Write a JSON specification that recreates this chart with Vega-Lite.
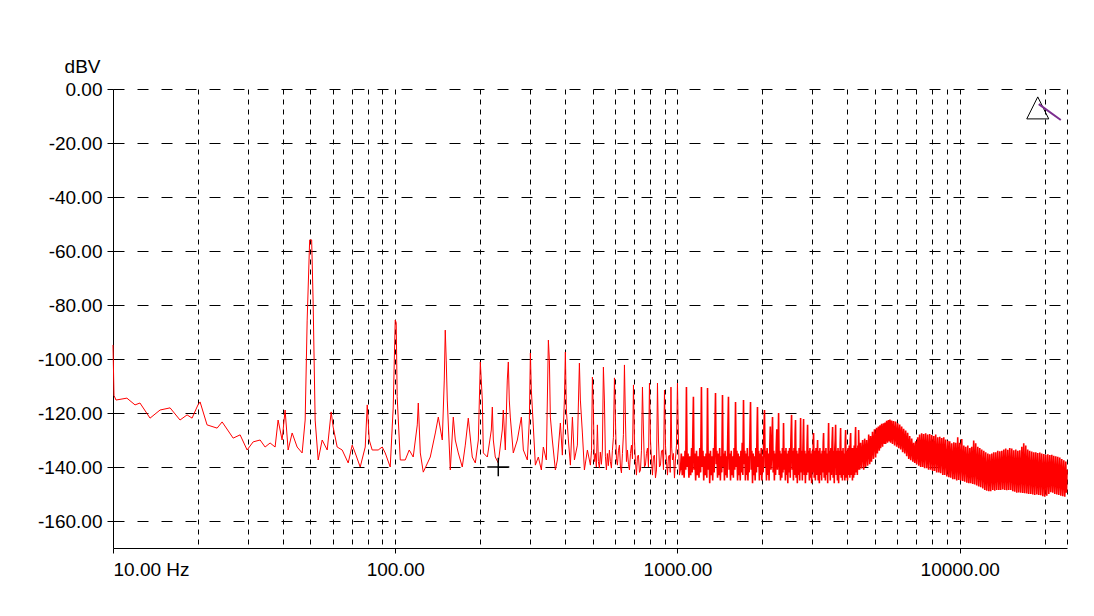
{
"$schema": "https://vega.github.io/schema/vega-lite/v6.json",
"autosize": "none",
"width": 954,
"height": 459,
"padding": {"left": 113, "top": 89, "right": 27, "bottom": 68},
"background": "white",
"config": {"view": {"stroke": null}},
"data": {"values": [
{"f":10,"d":-94.8},{"f":10.08,"d":-113.5},{"f":10.25,"d":-115.2},{"f":11.2,"d":-114.5},{"f":11.97,"d":-117},{"f":12.46,"d":-116.3},{"f":13.53,"d":-121.9},{"f":14.68,"d":-118.9},{"f":15.93,"d":-118.1},{"f":17.28,"d":-122.6},{"f":18.3,"d":-120.7},{"f":19.06,"d":-121.9},{"f":20,"d":-117},{"f":20.35,"d":-115.9},{"f":21.54,"d":-124.4},{"f":23.38,"d":-125.6},{"f":24.36,"d":-123.3},{"f":26.65,"d":-129.3},{"f":28.21,"d":-128.1},{"f":29.87,"d":-133.7},{"f":31.37,"d":-130.7},{"f":33.21,"d":-130},{"f":34.59,"d":-132.6},{"f":36.03,"d":-131.1},{"f":37.53,"d":-132.6},{"f":38.46,"d":-122.6},{"f":39.74,"d":-130},{"f":40.72,"d":-118.9},{"f":41.74,"d":-133.7},{"f":43.13,"d":-127.4},{"f":44.92,"d":-132.6},{"f":46.79,"d":-134.8},{"f":47.96,"d":-122.6},{"f":48.75,"d":-85.6},{"f":49.75,"d":-55.9},{"f":50.57,"d":-55.9},{"f":51.19,"d":-79.3},{"f":52.03,"d":-122.6},{"f":53.33,"d":-137.4},{"f":55.1,"d":-130},{"f":57.41,"d":-133.7},{"f":59.29,"d":-119.6},{"f":60.27,"d":-125.2},{"f":62.27,"d":-132.6},{"f":64.87,"d":-133.7},{"f":68.13,"d":-138.5},{"f":70.39,"d":-131.9},{"f":72.14,"d":-134.8},{"f":75.15,"d":-140},{"f":78.29,"d":-132.6},{"f":79.58,"d":-117},{"f":80.89,"d":-130},{"f":82.86,"d":-133.7},{"f":87.02,"d":-133.7},{"f":89.95,"d":-132.6},{"f":92.15,"d":-134.8},{"f":96,"d":-140},{"f":98.38,"d":-117.8},{"f":100,"d":-85.6},{"f":100.8,"d":-86.5},{"f":101.6,"d":-114},{"f":104.2,"d":-137.4},{"f":108.5,"d":-137.4},{"f":112.1,"d":-133.7},{"f":115.8,"d":-136.3},{"f":119.7,"d":-124.4},{"f":120.7,"d":-116.3},{"f":122.7,"d":-134.8},{"f":125.7,"d":-141.9},{"f":133.1,"d":-136.3},{"f":138.7,"d":-127.4},{"f":142.1,"d":-121.5},{"f":146.8,"d":-130},{"f":149.2,"d":-107.8},{"f":150.4,"d":-89.3},{"f":151.6,"d":-100.4},{"f":152.9,"d":-115.2},{"f":156.7,"d":-141.1},{"f":160.6,"d":-121.5},{"f":163.2,"d":-130},{"f":167.3,"d":-134.8},{"f":172.8,"d":-140},{"f":177.1,"d":-131.9},{"f":181.5,"d":-121.9},{"f":187.5,"d":-136.3},{"f":192.2,"d":-138.5},{"f":197,"d":-130},{"f":200.2,"d":-101.1},{"f":203.5,"d":-115.2},{"f":205.2,"d":-134.8},{"f":212,"d":-136.3},{"f":219,"d":-126.3},{"f":220.8,"d":-117.8},{"f":222.6,"d":-130},{"f":226.2,"d":-136.3},{"f":231.8,"d":-138.5},{"f":239.5,"d":-126.3},{"f":241.5,"d":-118.9},{"f":245.5,"d":-133.7},{"f":249.5,"d":-107.8},{"f":251.6,"d":-101.1},{"f":253.6,"d":-115.2},{"f":255.7,"d":-121.5},{"f":262,"d":-134.8},{"f":270.8,"d":-130},{"f":279.8,"d":-121.5},{"f":284.4,"d":-133.7},{"f":293.8,"d":-137.4},{"f":298.7,"d":-122.6},{"f":301.2,"d":-97.8},{"f":303.6,"d":-111.5},{"f":308.6,"d":-125.2},{"f":313.7,"d":-139.3},{"f":321.4,"d":-136.3},{"f":329.4,"d":-141.1},{"f":334.8,"d":-132.6},{"f":343.1,"d":-137.4},{"f":348.8,"d":-93},{"f":351.7,"d":-100.4},{"f":354.5,"d":-121.5},{"f":360.3,"d":-130},{"f":369.3,"d":-141.1},{"f":375.4,"d":-137.4},{"f":384.7,"d":-123.7},{"f":391,"d":-135.6},{"f":397.5,"d":-115.2},{"f":400.7,"d":-97.4},{"f":404,"d":-118.9},{"f":410.7,"d":-130},{"f":417.5,"d":-139.3},{"f":424.4,"d":-121.5},{"f":431.4,"d":-137.4},{"f":442,"d":-131.9},{"f":449.3,"d":-101.5},{"f":452.9,"d":-115.2},{"f":460.4,"d":-127.4},{"f":468,"d":-141.1},{"f":479.6,"d":-133.7},
{"f":491.5,"d":-139.3},{"f":496,"d":-134},{"f":499.6,"d":-106.7},{"f":503.6,"d":-118.9},{"f":507.5,"d":-138},{"f":511.9,"d":-135},{"f":516,"d":-140},{"f":520.4,"d":-124.4},{"f":524.5,"d":-138},{"f":528.9,"d":-140.4},{"f":533,"d":-134.5},{"f":537.7,"d":-139},{"f":542,"d":-133.7},{"f":546.5,"d":-103},{"f":551,"d":-115.2},{"f":555.5,"d":-136},{"f":560.1,"d":-141.1},{"f":564.5,"d":-135},{"f":569,"d":-139.5},{"f":574,"d":-133.7},{"f":578.5,"d":-138},{"f":583.4,"d":-140.4},{"f":588,"d":-134},{"f":593,"d":-129},{"f":598,"d":-107},{"f":602.9,"d":-122.6},{"f":607.8,"d":-137},{"f":612.8,"d":-139.3},{"f":617.8,"d":-134},{"f":622.9,"d":-131.9},{"f":628,"d":-140},{"f":633.2,"d":-142.2},{"f":638.3,"d":-135},{"f":643.5,"d":-128},{"f":648.9,"d":-102.2},{"f":654.2,"d":-122.6},{"f":659.6,"d":-138},{"f":665,"d":-133.7},{"f":670.5,"d":-139},{"f":676,"d":-141.1},{"f":681.5,"d":-135},{"f":687.1,"d":-131.9},{"f":692.7,"d":-137},{"f":698.4,"d":-109.6},{"f":704.1,"d":-130},{"f":709.9,"d":-138},{"f":715.7,"d":-143},{"f":721.5,"d":-136},{"f":727.4,"d":-135.6},{"f":733.4,"d":-142},{"f":739.4,"d":-141.1},{"f":745.5,"d":-134},{"f":751.6,"d":-110.4},{"f":757.7,"d":-126.3},{"f":764,"d":-140},{"f":770.2,"d":-139.3},{"f":776.5,"d":-135},{"f":782.9,"d":-133},{"f":789.3,"d":-140},{"f":795.8,"d":-108.9},{"f":802.3,"d":-130},{"f":808.9,"d":-137},{"f":815.5,"d":-143},{"f":822.2,"d":-136},{"f":828.9,"d":-135.6},{"f":835.7,"d":-144},{"f":842.6,"d":-141.1},{"f":849.5,"d":-108.9},{"f":856.5,"d":-130},{"f":863.5,"d":-140},{"f":870.6,"d":-139.3},{"f":877.8,"d":-134},{"f":885,"d":-133.7},{"f":892.2,"d":-141},{"f":899.5,"d":-111.5},{"f":906.9,"d":-131.9},{"f":914.3,"d":-138},{"f":921.8,"d":-143},{"f":929.4,"d":-136},{"f":937,"d":-135.6},{"f":942.6,"d":-142},{"f":948.4,"d":-110.4},{"f":954.2,"d":-133},{"f":960.1,"d":-137.4},{"f":968,"d":-135},{"f":975.9,"d":-144.1},{"f":984,"d":-137},{"f":992,"d":-131.9},{"f":1000,"d":-108.9},{"f":1008.2,"d":-130},{"f":1016.4,"d":-143},{"f":1024.7,"d":-141.1},
{"f":1032,"d":-135},{"f":1040,"d":-143},{"f":1048,"d":-136},{"f":1056,"d":-144},{"f":1064,"d":-134},{"f":1070,"d":-141},{"f":1076,"d":-110.4},{"f":1082,"d":-140},{"f":1090,"d":-135},{"f":1098,"d":-144},{"f":1106,"d":-136},{"f":1114,"d":-143},{"f":1122,"d":-133},{"f":1128,"d":-142},{"f":1134,"d":-127},{"f":1139,"d":-114},{"f":1145,"d":-141},{"f":1152,"d":-135},{"f":1160,"d":-145},{"f":1168,"d":-134},{"f":1176,"d":-143},{"f":1184,"d":-136},{"f":1192,"d":-144},{"f":1200,"d":-133},{"f":1208,"d":-142},{"f":1216,"d":-110.4},{"f":1223,"d":-140},{"f":1231,"d":-134},{"f":1239,"d":-145},{"f":1247,"d":-136},{"f":1255,"d":-143},{"f":1263,"d":-135},{"f":1271,"d":-144},{"f":1278,"d":-110.7},{"f":1285,"d":-141},{"f":1293,"d":-135},{"f":1301,"d":-146},{"f":1309,"d":-134},{"f":1317,"d":-143},{"f":1325,"d":-136},{"f":1333,"d":-145},{"f":1341,"d":-133},{"f":1349,"d":-142},{"f":1357,"d":-128},{"f":1364,"d":-112.6},{"f":1371,"d":-139},{"f":1379,"d":-134},{"f":1387,"d":-144},{"f":1395,"d":-135},{"f":1403,"d":-143},{"f":1411,"d":-133},{"f":1419,"d":-145},{"f":1427,"d":-136},{"f":1435,"d":-142},{"f":1444,"d":-113.3},{"f":1451,"d":-140},{"f":1459,"d":-135},{"f":1467,"d":-145},{"f":1475,"d":-134},{"f":1483,"d":-143},{"f":1491,"d":-136},{"f":1499,"d":-144},{"f":1507,"d":-129},{"f":1516,"d":-114},
{"f":1524,"d":-141},{"f":1533,"d":-135},{"f":1542,"d":-145},{"f":1551,"d":-134},{"f":1560,"d":-143},{"f":1569,"d":-136},{"f":1578,"d":-144},{"f":1587,"d":-133},{"f":1596,"d":-141},{"f":1606,"d":-115.9},{"f":1615,"d":-140},{"f":1624,"d":-134},{"f":1633,"d":-145},{"f":1642,"d":-135},{"f":1651,"d":-143},{"f":1660,"d":-136},{"f":1669,"d":-145},{"f":1678,"d":-134},{"f":1687,"d":-142},{"f":1696,"d":-131},{"f":1705,"d":-143},{"f":1714,"d":-115.2},{"f":1723,"d":-139},{"f":1732,"d":-134},{"f":1741,"d":-145},{"f":1750,"d":-135},{"f":1759,"d":-143},{"f":1768,"d":-133},{"f":1777,"d":-145},{"f":1786,"d":-136},{"f":1795,"d":-142},{"f":1805,"d":-130},{"f":1815,"d":-115.9},{"f":1825,"d":-141},{"f":1835,"d":-134},{"f":1845,"d":-146},{"f":1855,"d":-135},{"f":1865,"d":-143},{"f":1875,"d":-136},{"f":1885,"d":-145},{"f":1895,"d":-133},{"f":1905,"d":-142},{"f":1913,"d":-128},{"f":1921,"d":-117.8},{"f":1931,"d":-140},{"f":1941,"d":-134},{"f":1951,"d":-145},{"f":1961,"d":-135},{"f":1971,"d":-143},{"f":1981,"d":-133},{"f":1991,"d":-145},{"f":2001,"d":-136},{"f":2012,"d":-142},{"f":2023,"d":-127},{"f":2034,"d":-118.9},{"f":2045,"d":-140},{"f":2056,"d":-134},{"f":2067,"d":-145},{"f":2078,"d":-133},{"f":2089,"d":-143},{"f":2100,"d":-135},{"f":2111,"d":-145},{"f":2122,"d":-134},{"f":2133,"d":-125},{"f":2144,"d":-141},{"f":2155,"d":-136},{"f":2164,"d":-128},{"f":2172,"d":-121.5},{"f":2183,"d":-142},{"f":2194,"d":-134},{"f":2205,"d":-145},{"f":2216,"d":-135},{"f":2227,"d":-143},{"f":2238,"d":-133},{"f":2249,"d":-126},{"f":2260,"d":-141},{"f":2271,"d":-135},{"f":2282,"d":-120},{"f":2294,"d":-143},
{"f":2306,"d":-134},{"f":2318,"d":-145},{"f":2330,"d":-135},{"f":2342,"d":-144},{"f":2354,"d":-133},{"f":2365,"d":-142},{"f":2376,"d":-123.7},{"f":2388,"d":-141},{"f":2400,"d":-134},{"f":2412,"d":-145},{"f":2424,"d":-133},{"f":2436,"d":-143},{"f":2448,"d":-135},{"f":2460,"d":-146},{"f":2472,"d":-134},{"f":2484,"d":-142},{"f":2496,"d":-133},{"f":2510,"d":-144},{"f":2523,"d":-130},{"f":2537,"d":-120.7},{"f":2550,"d":-141},{"f":2563,"d":-134},{"f":2576,"d":-145},{"f":2589,"d":-133},{"f":2602,"d":-143},{"f":2611,"d":-128},{"f":2620,"d":-122.6},{"f":2633,"d":-144},{"f":2646,"d":-134},{"f":2659,"d":-146},{"f":2672,"d":-135},{"f":2685,"d":-143},{"f":2698,"d":-133},{"f":2711,"d":-145},{"f":2724,"d":-131},{"f":2731,"d":-121.9},{"f":2744,"d":-142},{"f":2757,"d":-134},{"f":2770,"d":-145},{"f":2784,"d":-133},{"f":2798,"d":-122.2},{"f":2812,"d":-143},{"f":2826,"d":-134},{"f":2840,"d":-146},{"f":2854,"d":-135},{"f":2868,"d":-143},{"f":2880,"d":-131},{"f":2891,"d":-124.4},{"f":2905,"d":-142},{"f":2919,"d":-134},{"f":2933,"d":-145},{"f":2947,"d":-133},{"f":2961,"d":-144},{"f":2975,"d":-135},{"f":2989,"d":-146},{"f":3003,"d":-134},{"f":3017,"d":-142},{"f":3028,"d":-131},{"f":3036,"d":-127.4},{"f":3051,"d":-144},{"f":3066,"d":-134},{"f":3081,"d":-145},{"f":3096,"d":-133},{"f":3111,"d":-143},{"f":3126,"d":-135},{"f":3137,"d":-130},{"f":3152,"d":-145},{"f":3167,"d":-134},{"f":3182,"d":-146},{"f":3197,"d":-133},{"f":3212,"d":-143},{"f":3227,"d":-135},{"f":3242,"d":-145},{"f":3257,"d":-134},{"f":3272,"d":-142},{"f":3284,"d":-131},{"f":3294,"d":-127.4},
{"f":3310,"d":-144},{"f":3326,"d":-134},{"f":3342,"d":-145},{"f":3358,"d":-133},{"f":3374,"d":-143},{"f":3390,"d":-135},{"f":3406,"d":-146},{"f":3420,"d":-132},{"f":3432,"d":-123.7},{"f":3448,"d":-142},{"f":3464,"d":-134},{"f":3480,"d":-145},{"f":3496,"d":-133},{"f":3512,"d":-143},{"f":3530,"d":-131},{"f":3546,"d":-125.2},{"f":3562,"d":-144},{"f":3578,"d":-134},{"f":3594,"d":-146},{"f":3610,"d":-133},{"f":3622,"d":-130},{"f":3634,"d":-124.4},{"f":3652,"d":-143},{"f":3670,"d":-134},{"f":3688,"d":-145},{"f":3706,"d":-133},{"f":3724,"d":-146},{"f":3742,"d":-134},{"f":3760,"d":-143},{"f":3772,"d":-131},{"f":3785,"d":-125.6},{"f":3804,"d":-144},{"f":3823,"d":-134},{"f":3842,"d":-145},{"f":3861,"d":-133},{"f":3880,"d":-143},{"f":3899,"d":-135},{"f":3918,"d":-145},{"f":3930,"d":-131},{"f":3943,"d":-126.3},{"f":3963,"d":-144},{"f":3983,"d":-134},{"f":4003,"d":-145},{"f":4023,"d":-133},{"f":4043,"d":-143},{"f":4063,"d":-132},{"f":4083,"d":-144},{"f":4095,"d":-130},{"f":4108,"d":-127.4},{"f":4128,"d":-143},{"f":4148,"d":-133},{"f":4168,"d":-145},{"f":4188,"d":-133},{"f":4208,"d":-144},{"f":4228,"d":-132},{"f":4248,"d":-143},{"f":4263,"d":-130},{"f":4278,"d":-125.2},{"f":4298,"d":-142},{"f":4318,"d":-133},{"f":4338,"d":-143},{"f":4358,"d":-132},{"f":4372,"d":-141},{"f":4384,"d":-126.3},
{"f":4420,"d":-141},{"f":4456,"d":-131},{"f":4490,"d":-140.5},{"f":4530,"d":-130},{"f":4570,"d":-141},{"f":4605,"d":-129.5},{"f":4642,"d":-140},{"f":4680,"d":-130},{"f":4720,"d":-139.5},{"f":4760,"d":-128},{"f":4800,"d":-139},{"f":4834,"d":-128.5},{"f":4870,"d":-138},{"f":4910,"d":-127},{"f":4950,"d":-137},{"f":4990,"d":-126},{"f":5036,"d":-136.5},{"f":5075,"d":-125.5},{"f":5110,"d":-135},{"f":5150,"d":-125},{"f":5190,"d":-134},{"f":5220,"d":-124.5},{"f":5247,"d":-133},{"f":5290,"d":-124},{"f":5330,"d":-132.5},{"f":5370,"d":-123.8},{"f":5410,"d":-131.5},{"f":5440,"d":-123.5},{"f":5466,"d":-131.5},{"f":5510,"d":-122.9},{"f":5550,"d":-131},{"f":5590,"d":-122.6},{"f":5630,"d":-130.5},{"f":5660,"d":-122.4},{"f":5691,"d":-131},{"f":5740,"d":-122.8},{"f":5780,"d":-131.5},{"f":5830,"d":-123},{"f":5880,"d":-132},{"f":5929,"d":-123.2},{"f":5980,"d":-132.5},{"f":6030,"d":-123.8},{"f":6080,"d":-133},{"f":6130,"d":-124.3},{"f":6178,"d":-133.5},{"f":6230,"d":-125},{"f":6280,"d":-134.5},{"f":6330,"d":-125.8},{"f":6385,"d":-135},{"f":6435,"d":-126.5},{"f":6490,"d":-136},{"f":6540,"d":-127.3},{"f":6600,"d":-137},{"f":6650,"d":-128.5},{"f":6704,"d":-137.5},{"f":6760,"d":-129.5},{"f":6820,"d":-138},{"f":6870,"d":-131},{"f":6930,"d":-138.5},{"f":6982,"d":-130.5},{"f":7040,"d":-139},{"f":7100,"d":-129},{"f":7160,"d":-139.5},{"f":7210,"d":-128},{"f":7272,"d":-140},{"f":7330,"d":-127.5},{"f":7390,"d":-140},{"f":7450,"d":-127.8},{"f":7510,"d":-140.5},{"f":7574,"d":-127.5},{"f":7640,"d":-140.5},{"f":7700,"d":-128},{"f":7760,"d":-141},{"f":7830,"d":-127.8},{"f":7892,"d":-141},{"f":7960,"d":-128.2},{"f":8020,"d":-141.5},{"f":8090,"d":-128.5},{"f":8150,"d":-141.5},{"f":8221,"d":-128},{"f":8290,"d":-142},{"f":8360,"d":-129},{"f":8430,"d":-142},{"f":8500,"d":-128.8},{"f":8562,"d":-142.3},{"f":8640,"d":-129.3},{"f":8710,"d":-143},{"f":8780,"d":-129},{"f":8850,"d":-143},{"f":8920,"d":-129.8},{"f":9000,"d":-143.5},{"f":9080,"d":-130.3},{"f":9150,"d":-143.8},{"f":9220,"d":-130.5},{"f":9292,"d":-144},{"f":9370,"d":-131.2},{"f":9450,"d":-144.5},{"f":9530,"d":-130.8},{"f":9600,"d":-144.5},{"f":9678,"d":-131},{"f":9760,"d":-145},{"f":9840,"d":-129},{"f":9920,"d":-144.8},{"f":10000,"d":-131},{"f":10081,"d":-145},{"f":10170,"d":-129.6},{"f":10250,"d":-145.2},{"f":10340,"d":-132},{"f":10420,"d":-145.5},{"f":10503,"d":-132.5},{"f":10600,"d":-145.8},{"f":10680,"d":-132},{"f":10770,"d":-146},{"f":10860,"d":-133},{"f":10940,"d":-146},{"f":11030,"d":-132.5},{"f":11120,"d":-146.3},{"f":11210,"d":-130.2},{"f":11300,"d":-146.5},{"f":11395,"d":-131.2},{"f":11490,"d":-146.8},{"f":11590,"d":-132.5},{"f":11680,"d":-147.2},{"f":11780,"d":-133},{"f":11871,"d":-147.5},{"f":11970,"d":-133.5},{"f":12070,"d":-148},{"f":12170,"d":-134},{"f":12270,"d":-148.5},{"f":12366,"d":-134.5},{"f":12470,"d":-148.8},{"f":12580,"d":-135},{"f":12680,"d":-149},{"f":12780,"d":-135.3},{"f":12881,"d":-149},{"f":12990,"d":-135},{"f":13100,"d":-148.5},{"f":13200,"d":-134.5},{"f":13310,"d":-148.8},{"f":13418,"d":-134.5},{"f":13530,"d":-148.5},{"f":13640,"d":-134},{"f":13760,"d":-148.5},{"f":13870,"d":-134.2},{"f":13977,"d":-148.5},{"f":14100,"d":-134},{"f":14210,"d":-148.3},{"f":14330,"d":-133.5},{"f":14440,"d":-148.5},{"f":14558,"d":-133.2},{"f":14680,"d":-148.6},{"f":14800,"d":-133.6},{"f":14920,"d":-148.5},{"f":15040,"d":-133},{"f":15168,"d":-148.5},{"f":15290,"d":-133.2},{"f":15420,"d":-149},{"f":15540,"d":-133.8},{"f":15670,"d":-149.2},{"f":15800,"d":-133.5},{"f":15930,"d":-149.5},{"f":16060,"d":-134},{"f":16190,"d":-149.4},{"f":16320,"d":-133.8},{"f":16456,"d":-149.5},{"f":16600,"d":-132.5},{"f":16730,"d":-149.6},{"f":16860,"d":-131.2},{"f":17000,"d":-149.7},{"f":17140,"d":-132},{"f":17280,"d":-149.8},{"f":17420,"d":-133.5},{"f":17560,"d":-150},{"f":17700,"d":-134},{"f":17856,"d":-150},{"f":18000,"d":-134.3},{"f":18150,"d":-150.2},{"f":18300,"d":-134.5},{"f":18450,"d":-150.4},{"f":18600,"d":-134.5},{"f":18760,"d":-150.2},{"f":18900,"d":-134.8},{"f":19060,"d":-150.4},{"f":19220,"d":-134.6},{"f":19374,"d":-150.5},{"f":19530,"d":-135},{"f":19700,"d":-150.8},{"f":19860,"d":-135.2},{"f":20020,"d":-151},{"f":20184,"d":-135.5},{"f":20350,"d":-150.6},{"f":20520,"d":-135.3},{"f":20690,"d":-150},{"f":20860,"d":-135.6},{"f":21025,"d":-149.3},{"f":21200,"d":-135.5},{"f":21370,"d":-149.5},{"f":21540,"d":-135.8},{"f":21720,"d":-150},{"f":21899,"d":-136},{"f":22080,"d":-150.2},{"f":22260,"d":-136.2},{"f":22440,"d":-150.4},{"f":22630,"d":-136.5},{"f":22815,"d":-150.6},{"f":23000,"d":-137},{"f":23190,"d":-150.8},{"f":23380,"d":-137.5},{"f":23570,"d":-151},{"f":23764,"d":-138},{"f":23900,"d":-149.5},{"f":24000,"d":-141}
]},
"encoding": {
"x": {"field": "f", "type": "quantitative",
 "scale": {"type": "log", "domain": [10, 24000], "nice": false},
 "axis": {
  "values": [10,20,30,40,50,60,70,80,90,100,200,300,400,500,600,700,800,900,1000,2000,3000,4000,5000,6000,7000,8000,9000,10000,20000,24000],
  "grid": true, "gridColor": "black", "gridDash": [5,5], "gridWidth": 1, "gridOpacity": 1,
  "tickSize": 5, "tickColor": "black",
  "tickOpacity": {"condition": {"test": "indexof([10,100,1000,10000], datum.value) >= 0", "value": 1}, "value": 0},
  "domainColor": "black", "domainWidth": 1,
  "labelExpr": "datum.value == 10 ? '10.00 Hz' : (indexof([100,1000,10000], datum.value) >= 0 ? format(datum.value, '.2f') : '')",
  "labelFlush": true, "labelOverlap": false,
  "labelFont": "Liberation Sans", "labelFontSize": 19, "labelColor": "black", "labelPadding": 7,
  "title": null
 }},
"y": {"field": "d", "type": "quantitative",
 "scale": {"domain": [-170, 0], "nice": false, "zero": false},
 "axis": {
  "values": [-160,-140,-120,-100,-80,-60,-40,-20,0],
  "grid": true, "gridColor": "black", "gridDash": [11,13], "gridWidth": 1, "gridOpacity": 1,
  "tickSize": 6, "tickColor": "black", "domainColor": "black", "domainWidth": 1,
  "labelExpr": "(datum.value < 0 ? '-' : '') + format(abs(datum.value), '.2f')",
  "labelFont": "Liberation Sans", "labelFontSize": 19, "labelColor": "black", "labelPadding": 5,
  "title": "dBV", "titleAngle": 0, "titleX": -13, "titleY": -17, "titleAlign": "right", "titleBaseline": "alphabetic",
  "titleFont": "Liberation Sans", "titleFontSize": 19, "titleFontWeight": "normal", "titleColor": "black"
 }}
},
"layer": [
{
"transform": [{"filter": "datum.f <= 1025"}],
"mark": {"type": "line", "color": "#ff0000", "strokeWidth": 1}
},
{
"transform": [{"filter": "datum.f >= 1024"}],
"mark": {"type": "line", "color": "#ff0000", "strokeWidth": 1.6}
},
{
"data": {"values": [{"f": 231.8, "d": -140}]},
"mark": {"type": "point", "shape": "M-1,0L1,0M0,-0.85L0,0.85", "size": 484, "stroke": "black", "strokeWidth": 1.5, "filled": false, "opacity": 1}
},
{
"data": {"values": [{"f": 18905, "d": -7}]},
"mark": {"type": "point", "shape": "M0,-1L1,1L-1,1Z", "size": 484, "stroke": "black", "strokeWidth": 1, "filled": false, "opacity": 1}
},
{
"data": {"values": [{"f": 19060, "d": -5.6, "f2": 22815, "d2": -11.5}]},
"mark": {"type": "rule", "color": "#7b2d8e", "strokeWidth": 2},
"encoding": {"x2": {"field": "f2"}, "y2": {"field": "d2"}}
}
]
}
